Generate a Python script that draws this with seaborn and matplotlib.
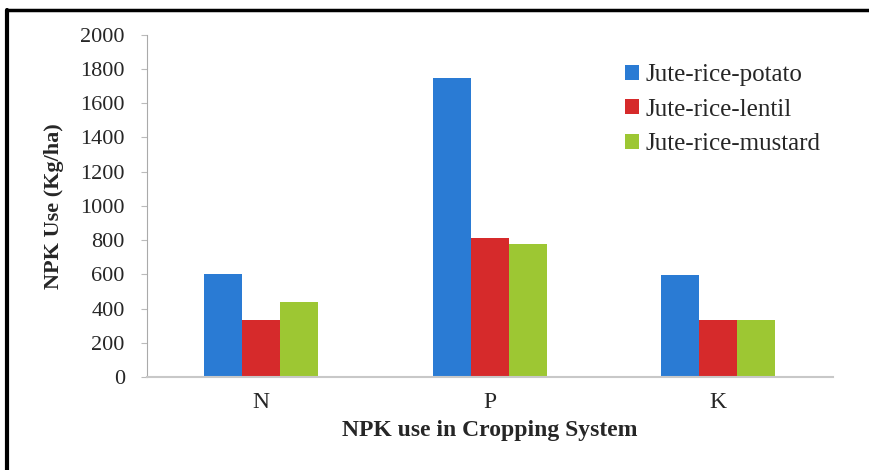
import pandas as pd
import matplotlib.pyplot as plt
import seaborn as sns
from matplotlib.lines import Line2D

# Data
nutrients = ['N', 'P', 'K']
systems = ['Jute-rice-potato', 'Jute-rice-lentil', 'Jute-rice-mustard']
potato = [600, 1750, 595]
lentil = [330, 810, 330]
mustard = [440, 775, 330]
colors = ['#2a7bd4', '#d62a2b', '#9dc733']

rows = []
for name, vals in zip(systems, [potato, lentil, mustard]):
    for n, v in zip(nutrients, vals):
        rows.append({'Nutrient': n, 'System': name, 'Value': v})
df = pd.DataFrame(rows)

sns.set_style('white')
plt.rcParams['font.family'] = ['Liberation Serif', 'DejaVu Serif']

fig = plt.figure(figsize=(8.7, 4.7), dpi=100)
ax = fig.add_axes([0.169, 0.198, 0.788, 0.728])

sns.barplot(data=df, x='Nutrient', y='Value', hue='System', order=nutrients,
            hue_order=systems, palette=colors, width=0.5, saturation=1,
            edgecolor='none', ax=ax)

ax.set_ylim(0, 2000)
ax.set_yticks(range(0, 2001, 200))
ax.set_xlim(-0.5, 2.5)
ax.tick_params(axis='y', labelsize=16, length=4, color='#bbbbbb',
               direction='out', left=True, pad=12)
ax.tick_params(axis='x', labelsize=17, length=0, pad=11)
ax.set_xlabel('NPK use in Cropping System', fontsize=17, fontweight='bold', labelpad=5)
ax.set_ylabel('NPK Use (Kg/ha)', fontsize=16, fontweight='bold', labelpad=12)

for s in ['top', 'right']:
    ax.spines[s].set_visible(False)
ax.spines['left'].set_color('#aaaaaa')
ax.spines['bottom'].set_color('#c8c8c8')
ax.spines['bottom'].set_linewidth(1.5)

ax.legend(loc='upper right', bbox_to_anchor=(1.015, 0.98), frameon=False,
          fontsize=18, handlelength=0.55, handleheight=0.55,
          handletextpad=0.25, labelspacing=0.5)

# page border (top and left only)
fig.add_artist(Line2D([0.008, 1.0], [0.979, 0.979], color='black', lw=2.5,
                      transform=fig.transFigure))
fig.add_artist(Line2D([0.008, 0.008], [0.0, 0.979], color='black', lw=3,
                      transform=fig.transFigure))

fig.savefig('out.png', dpi=100)
